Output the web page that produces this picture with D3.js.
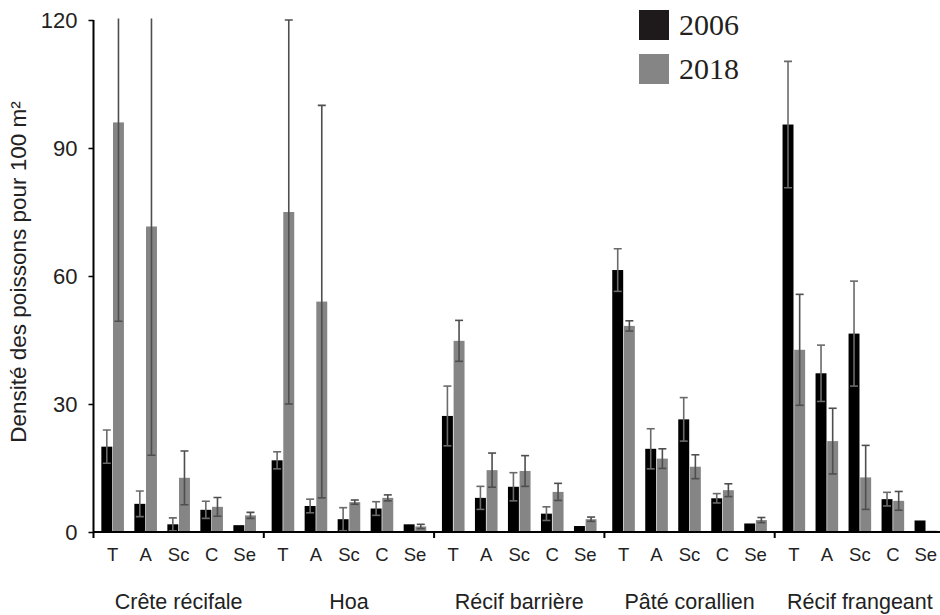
<!DOCTYPE html>
<html>
<head>
<meta charset="utf-8">
<script src="https://cdn.jsdelivr.net/npm/d3@7"></script>
<style>
  html, body { margin: 0; padding: 0; background: #fff; }
  svg { display: block; }
</style>
</head>
<body>
<div id="chart"></div>
<script>
const groups = ["Crête récifale", "Hoa", "Récif barrière", "Pâté corallien", "Récif frangeant"];
const categories = ["T", "A", "Sc", "C", "Se"];
const years = ["2006", "2018"];
const yTicks = [0, 30, 60, 90, 120];

const values2006 = [20.0, 6.6, 1.8, 5.2, 1.6,
                    16.8, 6.1, 3.0, 5.5, 1.8,
                    27.2, 8.0, 10.6, 4.3, 1.4,
                    61.4, 19.5, 26.4, 7.9, 2.0,
                    95.5, 37.2, 46.5, 7.7, 2.7];
const err2006 = [3.9, 3.0, 1.5, 2.0, 0,
                 2.0, 1.6, 2.7, 1.6, 0,
                 7.0, 2.7, 3.3, 1.6, 0,
                 5.0, 4.7, 5.1, 1.1, 0,
                 14.8, 6.6, 12.3, 1.6, 0];
const values2018 = [96.0, 71.6, 12.7, 5.9, 3.9,
                    75.0, 54.0, 7.0, 8.0, 1.3,
                    44.8, 14.5, 14.3, 9.4, 3.0,
                    48.3, 17.2, 15.3, 9.8, 2.8,
                    42.7, 21.3, 12.8, 7.3, 0.3];
const err2018 = [46.6, 53.6, 6.3, 2.2, 0.7,
                 45.0, 46.0, 0.5, 0.7, 0.5,
                 4.8, 4.0, 3.6, 2.0, 0.5,
                 1.2, 2.3, 2.8, 1.5, 0.6,
                 13.0, 7.7, 7.5, 2.2, 0];

const W = 940, H = 615;
const mLeft = 93.5, groupW = 170.3, mTop = 20, mBottom = 532;
const SANS = "Arial, 'Liberation Sans', sans-serif";
const SERIF = "'Liberation Serif', 'Times New Roman', serif";

const colors = { "2006": "#000000", "2018": "#858585" };
const errColor = { "2006": "#6a6a6a", "2018": "#4e4e4e" };

const rows = [];
groups.forEach((g, gi) => {
  categories.forEach((c, ci) => {
    const i = gi * categories.length + ci;
    rows.push({ group: g, cat: c, year: "2006", value: values2006[i], err: err2006[i] });
    rows.push({ group: g, cat: c, year: "2018", value: values2018[i], err: err2018[i] });
  });
});

const svg = d3.select("#chart").append("svg").attr("width", W).attr("height", H)
  .attr("font-family", SANS);

const x0 = d3.scaleBand().domain(groups).range([mLeft, mLeft + groupW * groups.length]).padding(0);
const x1 = d3.scalePoint().domain(categories).range([0, groupW]).padding(0.58);
const x2 = d3.scaleBand().domain(years).range([-11.3, 11.3]).paddingInner(0.06);
const y = d3.scaleLinear().domain([0, 120]).range([mBottom, mTop]);

svg.append("defs").append("clipPath").attr("id", "plotclip")
  .append("rect").attr("x", mLeft).attr("y", mTop - 1.5).attr("width", W - mLeft).attr("height", mBottom - mTop + 1.5);

const cx = d => x0(d.group) + x1(d.cat);

const plot = svg.append("g").attr("clip-path", "url(#plotclip)");

plot.selectAll("rect.bar").data(rows).join("rect")
  .attr("class", "bar")
  .attr("x", d => cx(d) + x2(d.year))
  .attr("width", x2.bandwidth())
  .attr("y", d => y(d.value))
  .attr("height", d => mBottom - y(d.value))
  .attr("fill", d => colors[d.year]);

const eb = plot.selectAll("g.err").data(rows.filter(d => d.err > 0)).join("g").attr("class", "err")
  .attr("stroke", d => errColor[d.year]).attr("stroke-width", 1.6);
const ex = d => cx(d) + x2(d.year) + x2.bandwidth() / 2;
eb.append("line").attr("x1", ex).attr("x2", ex)
  .attr("y1", d => y(d.value + d.err)).attr("y2", d => y(Math.max(0, d.value - d.err)));
eb.append("line").attr("x1", d => ex(d) - 4).attr("x2", d => ex(d) + 4)
  .attr("y1", d => y(d.value + d.err)).attr("y2", d => y(d.value + d.err));
eb.append("line").attr("x1", d => ex(d) - 4).attr("x2", d => ex(d) + 4)
  .attr("y1", d => y(Math.max(0, d.value - d.err))).attr("y2", d => y(Math.max(0, d.value - d.err)));

// Y axis
const yAxis = svg.append("g").attr("transform", `translate(${mLeft},0)`)
  .call(d3.axisLeft(y).tickValues(yTicks).tickSize(5).tickPadding(11));
yAxis.select(".domain").attr("stroke", "#000").attr("stroke-width", 2)
  .attr("d", `M0,${mTop}V${mBottom + 6}`);
yAxis.selectAll(".tick line").attr("stroke", "#000").attr("stroke-width", 1.5);
yAxis.selectAll(".tick text").attr("font-size", 22).attr("fill", "#222")
  .attr("font-family", SANS);

// X axis line
svg.append("line").attr("x1", mLeft).attr("x2", W).attr("y1", mBottom).attr("y2", mBottom)
  .attr("stroke", "#000").attr("stroke-width", 2.2);
svg.selectAll("line.gtick").data(groups.slice(1)).join("line").attr("class", "gtick")
  .attr("x1", d => x0(d)).attr("x2", d => x0(d)).attr("y1", mBottom).attr("y2", mBottom + 6)
  .attr("stroke", "#000").attr("stroke-width", 2);

// Category labels
const catRows = [];
groups.forEach(g => categories.forEach(c => catRows.push({ group: g, cat: c })));
svg.selectAll("text.cat").data(catRows).join("text").attr("class", "cat")
  .attr("x", d => x0(d.group) + x1(d.cat))
  .attr("y", 561)
  .attr("text-anchor", "middle")
  .attr("font-size", 18.5).attr("fill", "#222")
  .text(d => d.cat);

// Group labels
svg.selectAll("text.grp").data(groups).join("text").attr("class", "grp")
  .attr("x", d => x0(d) + groupW / 2)
  .attr("y", 609)
  .attr("text-anchor", "middle")
  .attr("font-size", 21.5).attr("fill", "#222")
  .text(d => d);

// Y title
svg.append("text")
  .attr("transform", `translate(26,${(mTop + mBottom) / 2 - 4}) rotate(-90)`)
  .attr("text-anchor", "middle")
  .attr("font-size", 22.5).attr("fill", "#222")
  .text("Densité des poissons pour 100 m²");

// Legend
const legend = svg.append("g");
const legColors = { "2006": "#1e1a1b", "2018": "#858585" };
years.forEach((yr, i) => {
  legend.append("rect").attr("x", 639).attr("y", 10 + i * 44).attr("width", 30).attr("height", 30)
    .attr("fill", legColors[yr]);
  legend.append("text").attr("x", 679).attr("y", 35 + i * 44)
    .attr("font-family", SERIF)
    .attr("font-size", 30).attr("fill", "#231f20")
    .text(yr);
});
</script>
</body>
</html>
